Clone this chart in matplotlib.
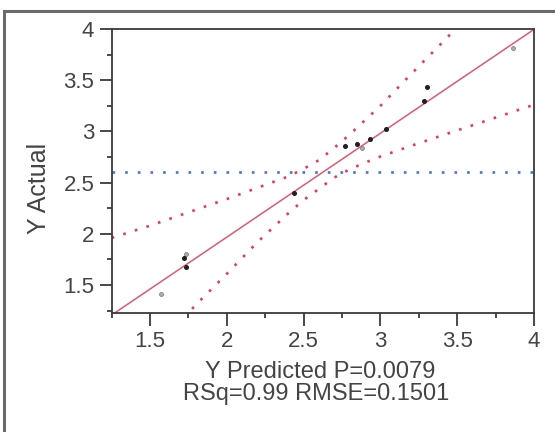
"""Actual vs predicted leverage plot."""

import matplotlib
matplotlib.use("Agg")
import matplotlib.pyplot as plt
from matplotlib.patches import Rectangle
from matplotlib.ticker import MultipleLocator

# observed points (predicted, actual)
pred_dark = [1.72, 1.735, 2.437, 2.768, 2.85, 2.93, 3.033, 3.286, 3.304]
actual_dark = [1.767, 1.679, 2.396, 2.86, 2.877, 2.926, 3.02, 3.30, 3.437]
pred_light = [1.569, 1.735, 2.883, 3.863]
actual_light = [1.409, 1.80, 2.835, 3.81]

# fitted line end points
fit_x = [1.25, 4.0]
fit_y = [1.2075, 3.996]

# confidence curves
upper_x = [1.25, 1.5, 1.75, 2.0, 2.2, 2.4, 2.5, 2.6, 2.7, 2.8, 3.0, 3.2, 3.47, 3.6]
upper_y = [1.96, 2.08, 2.21, 2.34, 2.45, 2.56, 2.635, 2.72, 2.84, 2.97, 3.25, 3.56, 3.97, 4.17]
lower_x = [1.72, 1.8, 2.0, 2.2, 2.4, 2.5, 2.6, 2.7, 2.8, 2.9, 3.0, 3.25, 3.5, 3.75, 4.0]
lower_y = [1.18, 1.31, 1.61, 1.92, 2.2, 2.33, 2.44, 2.55, 2.63, 2.695, 2.755, 2.885, 3.01, 3.135, 3.26]

mean_y = 2.607

x_label = "Y Predicted P=0.0079"
y_label = "Y Actual"
stats_text = "RSq=0.99 RMSE=0.1501"

plt.rcParams["font.family"] = ["Liberation Sans", "DejaVu Sans"]

fig = plt.figure(figsize=(5.55, 4.32), dpi=100)
ax = fig.add_axes([111.7 / 555, 1 - 313.3 / 432, (534 - 111.7) / 555, (313.3 - 29) / 432])

red_line = "#de5a6e"
red_dot = "#e8385c"
blue_dot = "#4a6fe0"
txt = "#444444"

ax.axhline(mean_y, color=blue_dot, lw=1.9, linestyle=(0, (1, 3.8)))
ax.plot(upper_x, upper_y, color=red_dot, lw=1.9, linestyle=(0, (1, 3.6)))
ax.plot(lower_x, lower_y, color=red_dot, lw=1.9, linestyle=(0, (1, 3.6)))
ax.plot(fit_x, fit_y, color=red_line, lw=1.1)

ax.plot(pred_light, actual_light, "o", ms=2.8, mfc="#b0b0b0", mec="#808080", mew=0.6)
ax.plot(pred_dark, actual_dark, "o", ms=2.6, mfc="#202020", mec="#202020")

ax.set_xlim(1.25, 4.0)
ax.set_ylim(1.224, 4.0)
ax.xaxis.set_major_locator(MultipleLocator(0.5))
ax.xaxis.set_minor_locator(MultipleLocator(0.25))
ax.yaxis.set_major_locator(MultipleLocator(0.5))
ax.yaxis.set_minor_locator(MultipleLocator(0.25))
ax.xaxis.set_major_formatter(lambda v, p: f"{v:g}")
ax.yaxis.set_major_formatter(lambda v, p: f"{v:g}")

for s in ax.spines.values():
    s.set_color("#3a3a3a")
    s.set_linewidth(1.3)
ax.tick_params(which="major", length=9, width=1.3, color="#3a3a3a", labelsize=16,
               labelcolor=txt, pad=3.5)
ax.tick_params(which="minor", length=3.8, width=1.3, color="#3a3a3a")

ax.set_ylabel(y_label, fontsize=18, color=txt)
ax.yaxis.set_label_coords(-0.143, 0.44)
ax.set_xlabel(x_label, fontsize=17, color=txt, va="baseline")
ax.xaxis.set_label_coords(0.493, (313.3 - 378) / 284.3)
fig.text(316 / 555, 1 - 400 / 432, stats_text, fontsize=17, color=txt,
         ha="center", va="baseline")

# outer frame running off the right and bottom edges
frame = Rectangle((4 / 555, -0.1), 1.2, 1 - 11 / 432 + 0.1, transform=fig.transFigure,
                  fill=False, ec="#6a6a6a", lw=2.2, clip_on=False)
fig.patches.append(frame)

fig.savefig("out.png", dpi=100)
